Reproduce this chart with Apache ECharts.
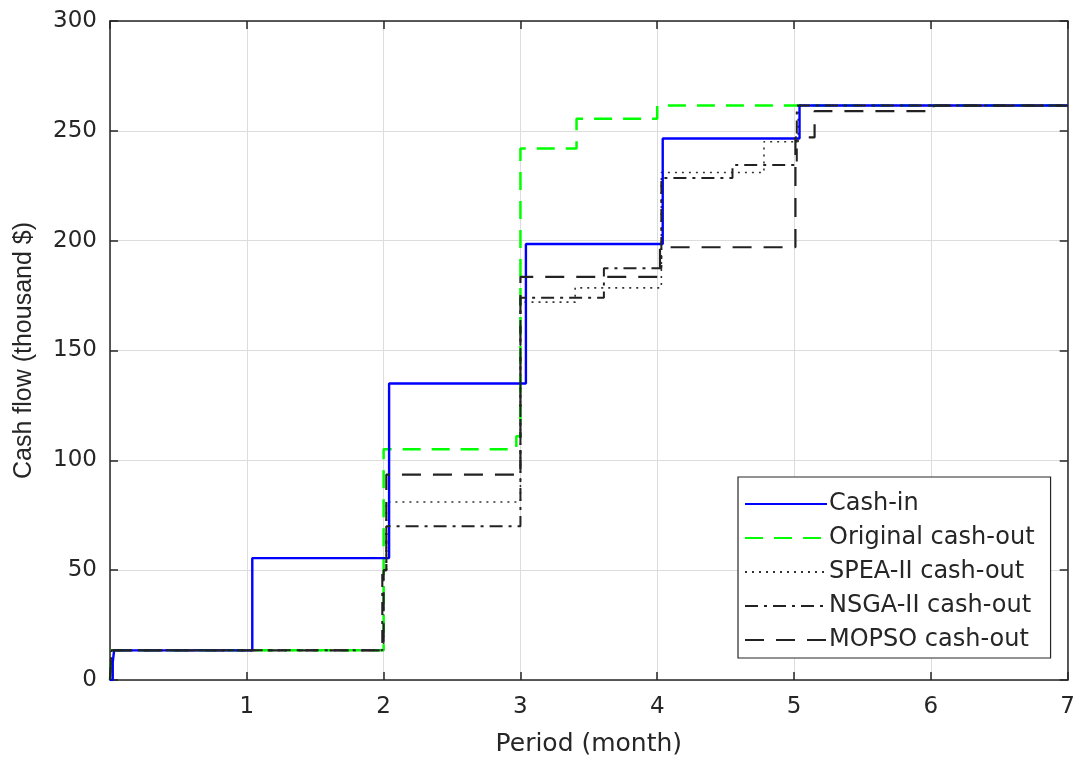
<!DOCTYPE html>
<html>
<head>
<meta charset="utf-8">
<script src="https://cdn.jsdelivr.net/npm/echarts@6/dist/echarts.min.js"></script>
<style>html,body{margin:0;padding:0;background:#fff}#c{width:1078px;height:762px}</style>
</head>
<body>
<div id="c"></div>
<script>
// Step breakpoints: [period, cumulative value] – value holds from this period on
const seriesNames = ['Cash-in', 'Original cash-out', 'SPEA-II cash-out', 'NSGA-II cash-out', 'MOPSO cash-out'];
const cashIn = [[0,0],[0.02,8],[0.03,13.5],[1.04,55.5],[2.04,135],[3.04,198.5],[4.04,246.5],[5.04,261.5],[7,261.5]];
const originalOut = [[0,0],[0.01,13.5],[2.0,105],[2.97,111],[3.0,242],[3.41,255.5],[4.0,261.5],[7,261.5]];
const speaOut = [[0,0],[0.01,13.5],[2.0,50],[2.02,81],[3.0,172],[3.4,178.5],[4.03,231],[4.78,245],[5.03,261.5],[7,261.5]];
const nsgaOut = [[0,0],[0.01,13.5],[1.99,50],[2.02,70],[3.0,174],[3.61,187.5],[4.03,228.5],[4.55,234.5],[5.02,261.5],[7,261.5]];
const mopsoOut = [[0,0],[0.01,13.5],[2.0,50],[2.02,93.5],[3.0,183.5],[4.02,197],[5.01,247],[5.15,259],[6.02,261.5],[7,261.5]];
const xTicks = [0,1,2,3,4,5,6,7];
const yTicks = [0,50,100,150,200,250,300];

const FONT = '"DejaVu Sans", "Liberation Sans", Arial, sans-serif';
const FONT2 = '"Liberation Sans", Arial, Helvetica, sans-serif';
const AX = '#262626';
const chart = echarts.init(document.getElementById('c'), null, {renderer:'canvas'});
function axisBase() {
  return {
    axisLine: {show: true, onZero: false, lineStyle: {color: AX, width: 1.5}},
    axisTick: {show: true, inside: true, length: 8, lineStyle: {color: AX, width: 1.5}},
    axisLabel: {show: false},
  };
}
const mk = (name, data, color, type, width, z) => ({
  name, type: 'line', data, step: 'end', symbol: 'none', showSymbol: false,
  xAxisIndex: 0, yAxisIndex: 0, z,
  lineStyle: {color, type, width}, itemStyle: {color},
});
chart.setOption({
  animation: false,
  backgroundColor: '#fff',
  grid: {left: 110, right: 8, top: 21, bottom: 80},
  xAxis: [
    Object.assign(axisBase(), {
      type: 'value', min: xTicks[0], max: xTicks[xTicks.length-1], interval: 1, position: 'bottom',
      name: 'Period (month)', nameLocation: 'middle', nameGap: 52,
      nameTextStyle: {color: AX, fontSize: 25, fontFamily: FONT},
      axisLabel: {show: true, color: AX, fontSize: 23, fontFamily: FONT, margin: 16,
        formatter: v => v === 0 ? '' : String(v)},
      splitLine: {show: true, lineStyle: {color: '#dcdcdc', width: 1}},
    }),
    Object.assign(axisBase(), {
      type: 'value', min: xTicks[0], max: xTicks[xTicks.length-1], interval: 1, position: 'top',
      splitLine: {show: false},
    }),
  ],
  yAxis: [
    Object.assign(axisBase(), {
      type: 'value', min: yTicks[0], max: yTicks[yTicks.length-1], interval: 50, position: 'left',
      name: 'Cash flow (thousand $)', nameLocation: 'middle', nameGap: 73,
      nameTextStyle: {color: AX, fontSize: 25, fontFamily: FONT2},
      axisLabel: {show: true, color: AX, fontSize: 23, fontFamily: FONT, margin: 13},
      splitLine: {show: true, lineStyle: {color: '#dcdcdc', width: 1}},
    }),
    Object.assign(axisBase(), {
      type: 'value', min: yTicks[0], max: yTicks[yTicks.length-1], interval: 50, position: 'right',
      splitLine: {show: false},
    }),
  ],
  legend: {
    orient: 'vertical', left: 738, top: 477,
    data: seriesNames,
    itemWidth: 82, itemHeight: 26, itemGap: 8,
    padding: [14, 16, 5, 6],
    itemStyle: {opacity: 0},
    borderColor: AX, borderWidth: 1.2, backgroundColor: '#fff',
    textStyle: {color: AX, fontSize: 24, lineHeight: 26, fontFamily: FONT, padding: [0,0,0,-3]},
    selectedMode: false,
  },
  series: [
    mk(seriesNames[0], cashIn, '#0000ff', 'solid', 2.4, 5),
    mk(seriesNames[1], originalOut, '#00ff00', [18, 11], 2.5, 4),
    mk(seriesNames[2], speaOut, '#333333', [2, 5], 1.6, 3),
    mk(seriesNames[3], nsgaOut, '#222222', [13, 6, 3, 6], 2, 6),
    mk(seriesNames[4], mopsoOut, '#222222', [19, 12], 2.2, 7),
  ],
});
</script>
</body>
</html>
